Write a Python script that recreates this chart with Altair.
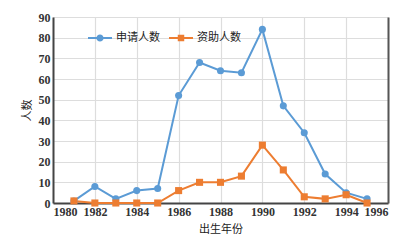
import altair as alt
import pandas as pd

years = [1981, 1982, 1983, 1984, 1985, 1986, 1987, 1988, 1989, 1990, 1991, 1992, 1993, 1994, 1995]
applied = [1, 8, 2, 6, 7, 52, 68, 64, 63, 84, 47, 34, 14, 5, 2]
funded = [1, 0, 0, 0, 0, 6, 10, 10, 13, 28, 16, 3, 2, 4, 0]
series_names = ["申请人数", "资助人数"]
colors = ["#5B9BD5", "#ED7D31"]
x_ticks = list(range(1980, 1997, 2))
y_ticks = list(range(0, 91, 10))

rows = []
for y, a, f in zip(years, applied, funded):
    rows.append({"year": y, "value": a, "series": series_names[0]})
    rows.append({"year": y, "value": f, "series": series_names[1]})
df = pd.DataFrame(rows)

NUM_FONT = "Liberation Serif"
CJK_FONT = "Noto Sans CJK SC"

xscale = alt.Scale(domain=[1980, 1996], nice=False, zero=False)
yscale = alt.Scale(domain=[0, 90], nice=False)

circle_sym = "M-1,-0.08H1V0.08H-1Z M0.3,0A0.3,0.3,0,1,1,-0.3,0A0.3,0.3,0,1,1,0.3,0Z"
square_sym = "M-1,-0.08H1V0.08H-1Z M-0.27,-0.27H0.27V0.27H-0.27Z"

x_enc = alt.X("year:Q", scale=xscale,
              axis=alt.Axis(values=x_ticks, format="d", title="出生年份",
                            titleFont=CJK_FONT, titleFontSize=11, titleFontWeight="normal",
                            titleColor="#222", titlePadding=6,
                            labelFont=NUM_FONT, labelFontSize=12, labelFontWeight="bold",
                            labelColor="#333", labelPadding=3, ticks=False,
                            domainColor="#444", domainWidth=2,
                            gridColor="#dddddd", gridWidth=1.2))
y_enc = alt.Y("value:Q", scale=yscale,
              axis=alt.Axis(values=y_ticks, title="人数",
                            titleFont=CJK_FONT, titleFontSize=11, titleFontWeight="normal",
                            titleColor="#222", titlePadding=6,
                            labelFont=NUM_FONT, labelFontSize=12, labelFontWeight="bold",
                            labelColor="#333", labelPadding=3, ticks=False,
                            domainColor="#444", domainWidth=2,
                            gridColor="#dddddd", gridWidth=1.2))

legend = alt.Legend(
    title=None, orient="none", legendX=35, legendY=9, direction="horizontal",
    labelFont=CJK_FONT, labelFontSize=11, labelColor="#222",
    symbolSize=576, symbolStrokeWidth=0, symbolOpacity=1, columnPadding=9, labelOffset=4,
)

line = alt.Chart(df).mark_line(strokeWidth=2).encode(
    x=x_enc, y=y_enc,
    color=alt.Color("series:N", scale=alt.Scale(domain=series_names, range=colors), legend=None),
)
points = alt.Chart(df).mark_point(filled=True, opacity=1, size=50).encode(
    x="year:Q", y=alt.Y("value:Q", axis=None),
    color=alt.Color("series:N", scale=alt.Scale(domain=series_names, range=colors), legend=None),
    shape=alt.Shape("series:N", scale=alt.Scale(domain=series_names, range=["circle", "square"]), legend=None),
)
legend_layer = alt.Chart(df).mark_point(filled=True, opacity=1).encode(
    x="year:Q", y=alt.Y("value:Q", axis=None),
    color=alt.Color("series:N", scale=alt.Scale(domain=series_names, range=colors), legend=legend),
    shape=alt.Shape("series:N", scale=alt.Scale(domain=series_names, range=[circle_sym, square_sym]), legend=legend),
).transform_filter("false")
right_frame = alt.Chart(df).mark_point(opacity=0).encode(
    y=alt.Y("value:Q", scale=yscale,
            axis=alt.Axis(orient="right", labels=False, ticks=False, grid=False, title=None,
                          domainColor="#555", domainWidth=2)),
)

chart = alt.layer(line, points, legend_layer, right_frame).resolve_axis(y="independent").resolve_scale(
    shape="independent", color="independent").properties(
    width=335, height=186, autosize="none",
    padding={"left": 53, "top": 17, "right": 21, "bottom": 45},
    background="#ffffff",
).configure_view(stroke=None)

chart.save("out.html", embed_options={"renderer": "svg", "actions": False})
